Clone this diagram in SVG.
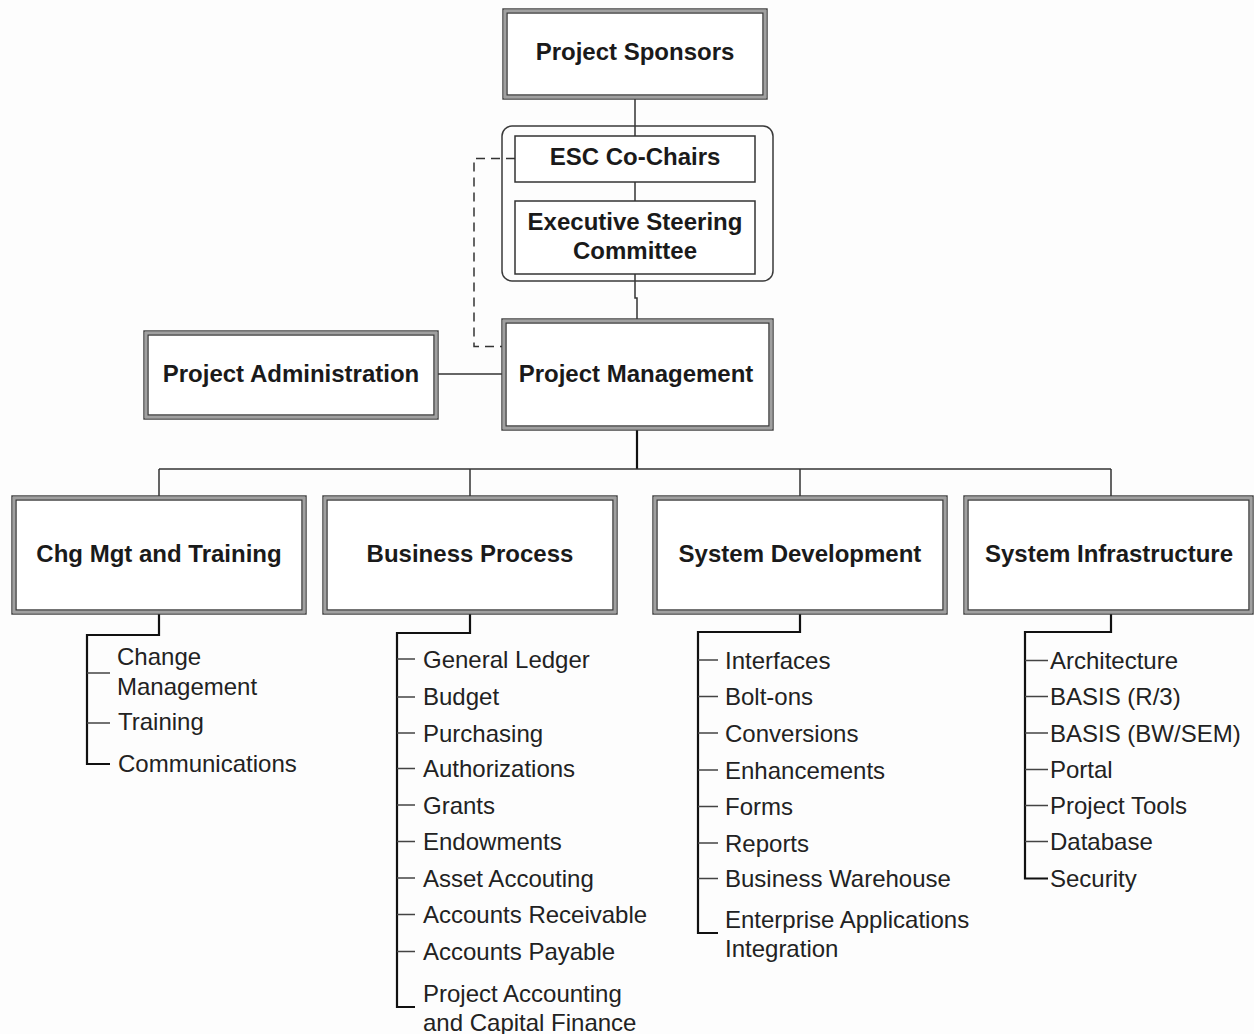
<svg xmlns="http://www.w3.org/2000/svg" width="1254" height="1034" viewBox="0 0 1254 1034">
<style>
.bg{fill:#fdfdfd}
.o{fill:#fff;stroke:#3a3a3a;stroke-width:1.4}
.m{fill:none;stroke:#a0a0a0;stroke-width:2.6}
.i{fill:none;stroke:#3a3a3a;stroke-width:1.4}
.s{fill:#fff;stroke:#333;stroke-width:1.5}
.t{font-family:"Liberation Sans",Arial,sans-serif;font-size:24px;font-weight:bold;fill:#1a1a1a;text-anchor:middle}
.c{font-family:"Liberation Sans",Arial,sans-serif;font-size:24px;fill:#222}
.ln{fill:none;stroke:#333;stroke-width:1.5}
.th{fill:none;stroke:#111;stroke-width:2.2}
.tk{fill:none;stroke:#444;stroke-width:1.4}
.d{fill:none;stroke:#333;stroke-width:1.5;stroke-dasharray:9,6}
</style>
<rect class="bg" x="0" y="0" width="1254" height="1034"/>
<g id="connectors">
<path class="ln" d="M635,99 V136"/>
<path class="ln" d="M635,182 V201"/>
<path class="ln" d="M635,274 V298 H637 V319"/>
<path class="d" d="M515,158.5 H474 V346.5 H502"/>
<path class="ln" d="M438,374 H502"/>
<path class="th" d="M637,430 V469"/>
<path class="ln" d="M159,469 H1111"/>
<path class="ln" d="M159,469 V496 M470,469 V496 M800,469 V496 M1111,469 V496"/>
<path class="th" d="M159,614 V635 H87 V764 H110"/>
<path class="tk" d="M87,673 H110 M87,723 H110"/>
<path class="th" d="M470,614 V633 H397 V1007 H415"/>
<path class="tk" d="M397,659 H415 M397,697 H415 M397,733 H415 M397,768.5 H415 M397,805 H415 M397,841.5 H415 M397,878 H415 M397,914.5 H415 M397,951.5 H415"/>
<path class="th" d="M800,614 V632 H698 V933 H718"/>
<path class="tk" d="M698,660 H718 M698,696.5 H718 M698,733 H718 M698,770 H718 M698,806.5 H718 M698,843 H718 M698,878.5 H718"/>
<path class="th" d="M1111,614 V632 H1025 V878.5 H1048"/>
<path class="tk" d="M1025,660.5 H1048 M1025,696.5 H1048 M1025,733 H1048 M1025,769.5 H1048 M1025,805.5 H1048 M1025,841.5 H1048"/>
</g>
<g id="sponsors">
<rect class="o" x="503" y="9" width="264" height="90"/>
<rect class="m" x="505" y="11" width="260" height="86"/>
<rect class="i" x="507" y="13" width="256" height="82"/>
<text class="t" x="635" y="60">Project Sponsors</text>
</g>
<g id="esc-group">
<rect fill="none" stroke="#3a3a3a" stroke-width="1.5" x="502" y="126" width="271" height="155" rx="10"/>
</g>
<g id="esc-cochairs">
<rect class="s" x="515" y="136" width="240" height="46"/>
<text class="t" x="635" y="165">ESC Co-Chairs</text>
</g>
<g id="esc">
<rect class="s" x="515" y="201" width="240" height="73"/>
<text class="t" x="635" y="230">Executive Steering</text>
<text class="t" x="635" y="258.5">Committee</text>
</g>
<g id="project-management">
<rect class="o" x="502" y="319" width="271" height="111"/>
<rect class="m" x="504" y="321" width="267" height="107"/>
<rect class="i" x="506" y="323" width="263" height="103"/>
<text class="t" x="636" y="382">Project Management</text>
</g>
<g id="project-administration">
<rect class="o" x="144" y="331" width="294" height="88"/>
<rect class="m" x="146" y="333" width="290" height="84"/>
<rect class="i" x="148" y="335" width="286" height="80"/>
<text class="t" x="291" y="382">Project Administration</text>
</g>
<g id="chg-mgt">
<rect class="o" x="12" y="496" width="294" height="118"/>
<rect class="m" x="14" y="498" width="290" height="114"/>
<rect class="i" x="16" y="500" width="286" height="110"/>
<text class="t" x="159" y="562">Chg Mgt and Training</text>
</g>
<g id="business-process">
<rect class="o" x="323" y="496" width="294" height="118"/>
<rect class="m" x="325" y="498" width="290" height="114"/>
<rect class="i" x="327" y="500" width="286" height="110"/>
<text class="t" x="470" y="562">Business Process</text>
</g>
<g id="system-development">
<rect class="o" x="653" y="496" width="294" height="118"/>
<rect class="m" x="655" y="498" width="290" height="114"/>
<rect class="i" x="657" y="500" width="286" height="110"/>
<text class="t" x="800" y="562">System Development</text>
</g>
<g id="system-infrastructure">
<rect class="o" x="964" y="496" width="289" height="118"/>
<rect class="m" x="966" y="498" width="285" height="114"/>
<rect class="i" x="968" y="500" width="281" height="110"/>
<text class="t" x="1109" y="562">System Infrastructure</text>
</g>
<g id="chg-items">
<text class="c" x="117" y="665">Change</text>
<text class="c" x="117" y="695">Management</text>
<text class="c" x="118" y="730">Training</text>
<text class="c" x="118" y="772">Communications</text>
</g>
<g id="bp-items">
<text class="c" x="423" y="667.5">General Ledger</text>
<text class="c" x="423" y="705">Budget</text>
<text class="c" x="423" y="741.5">Purchasing</text>
<text class="c" x="423" y="777">Authorizations</text>
<text class="c" x="423" y="813.5">Grants</text>
<text class="c" x="423" y="850">Endowments</text>
<text class="c" x="423" y="886.5">Asset Accouting</text>
<text class="c" x="423" y="923">Accounts Receivable</text>
<text class="c" x="423" y="960">Accounts Payable</text>
<text class="c" x="423" y="1001.5">Project Accounting</text>
<text class="c" x="423" y="1030.5">and Capital Finance</text>
</g>
<g id="sd-items">
<text class="c" x="725" y="668.5">Interfaces</text>
<text class="c" x="725" y="705">Bolt-ons</text>
<text class="c" x="725" y="741.5">Conversions</text>
<text class="c" x="725" y="778.5">Enhancements</text>
<text class="c" x="725" y="815">Forms</text>
<text class="c" x="725" y="851.5">Reports</text>
<text class="c" x="725" y="887">Business Warehouse</text>
<text class="c" x="725" y="928">Enterprise Applications</text>
<text class="c" x="725" y="957">Integration</text>
</g>
<g id="si-items">
<text class="c" x="1050" y="669">Architecture</text>
<text class="c" x="1050" y="705">BASIS (R/3)</text>
<text class="c" x="1050" y="741.5">BASIS (BW/SEM)</text>
<text class="c" x="1050" y="778">Portal</text>
<text class="c" x="1050" y="814">Project Tools</text>
<text class="c" x="1050" y="850">Database</text>
<text class="c" x="1050" y="887">Security</text>
</g>
</svg>
